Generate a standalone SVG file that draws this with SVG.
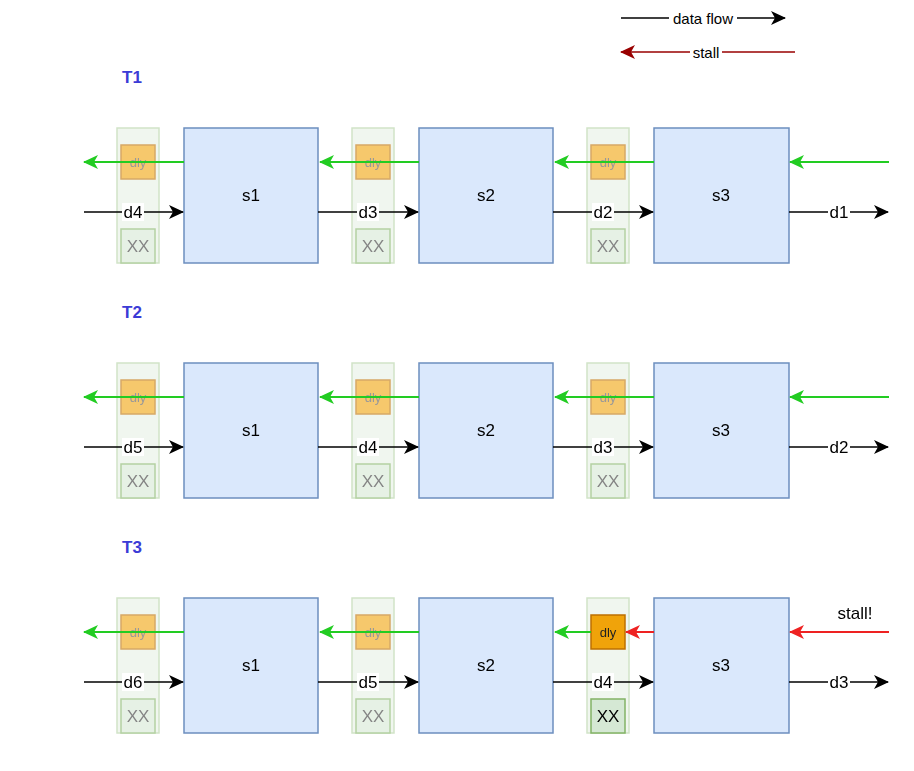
<svg xmlns="http://www.w3.org/2000/svg" width="914" height="771" viewBox="0 0 914 771">
<style>
text{font-family:"Liberation Sans",Arial,sans-serif;text-anchor:middle;dominant-baseline:central}
.stage{fill:#dae8fc;stroke:#6c8ebf;stroke-width:1.5}
.col{fill:#d5e8d4;stroke:#82b366;stroke-width:1.5}
.dly{fill:#f0a30a;stroke:#bd7000;stroke-width:1.5}
.xx{fill:#d5e8d4;stroke:#82b366;stroke-width:1.5}
.faded{opacity:0.6}
.lbl{font-size:17px;fill:#000}
.t{font-size:17px;font-weight:bold;fill:#3b3bd6;text-anchor:start}
.blk{stroke:#000;stroke-width:1.5;fill:none;marker-end:url(#ab)}
.grn{stroke:#22cc22;stroke-width:2;fill:none;marker-end:url(#ag)}
.red{stroke:#ee2222;stroke-width:2;fill:none;marker-end:url(#ar)}
.dred{stroke:#990000;stroke-width:1.5;fill:none;marker-end:url(#ad)}
</style>
<defs>
<marker id="ab" markerWidth="16" markerHeight="14" refX="14" refY="7" orient="auto" markerUnits="userSpaceOnUse"><path d="M0,0 L15,7 L0,14 L4,7 Z" fill="#000"/></marker>
<marker id="ag" markerWidth="16" markerHeight="14" refX="14" refY="7" orient="auto" markerUnits="userSpaceOnUse"><path d="M0,0 L15,7 L0,14 L4,7 Z" fill="#22cc22"/></marker>
<marker id="ar" markerWidth="16" markerHeight="14" refX="14" refY="7" orient="auto" markerUnits="userSpaceOnUse"><path d="M0,0 L15,7 L0,14 L4,7 Z" fill="#ee2222"/></marker>
<marker id="ad" markerWidth="16" markerHeight="14" refX="14" refY="7" orient="auto" markerUnits="userSpaceOnUse"><path d="M0,0 L15,7 L0,14 L4,7 Z" fill="#990000"/></marker>
</defs>
<g id="legend">
<path class="dred" d="M795,52 H621"/><rect x="690" y="43" width="32" height="18" fill="#fff"/><text x="706" y="52" font-size="15">stall</text>
<path class="blk" d="M621,18 H785"/><rect x="669" y="9" width="68" height="18" fill="#fff"/><text x="703" y="18" font-size="15">data flow</text>
</g>
<g id="titles">
<text class="t" x="122" y="77">T1</text><text class="t" x="122" y="312">T2</text><text class="t" x="122" y="547">T3</text>
</g>
<g id="registers">
<g id="r1" class="faded">
<rect class="col" x="117" y="128" width="42" height="135" opacity="0.6"/><rect class="dly" x="121" y="145" width="34" height="34"/><text x="138" y="162" font-size="13" fill="#555">dly</text><rect class="xx" x="121" y="229" width="34" height="34"/><text x="138" y="246" font-size="17" fill="#333">XX</text>
<rect class="col" x="352" y="128" width="42" height="135" opacity="0.6"/><rect class="dly" x="356" y="145" width="34" height="34"/><text x="373" y="162" font-size="13" fill="#555">dly</text><rect class="xx" x="356" y="229" width="34" height="34"/><text x="373" y="246" font-size="17" fill="#333">XX</text>
<rect class="col" x="587" y="128" width="42" height="135" opacity="0.6"/><rect class="dly" x="591" y="145" width="34" height="34"/><text x="608" y="162" font-size="13" fill="#555">dly</text><rect class="xx" x="591" y="229" width="34" height="34"/><text x="608" y="246" font-size="17" fill="#333">XX</text>
</g>
<g id="r2" class="faded">
<rect class="col" x="117" y="363" width="42" height="135" opacity="0.6"/><rect class="dly" x="121" y="380" width="34" height="34"/><text x="138" y="397" font-size="13" fill="#555">dly</text><rect class="xx" x="121" y="464" width="34" height="34"/><text x="138" y="481" font-size="17" fill="#333">XX</text>
<rect class="col" x="352" y="363" width="42" height="135" opacity="0.6"/><rect class="dly" x="356" y="380" width="34" height="34"/><text x="373" y="397" font-size="13" fill="#555">dly</text><rect class="xx" x="356" y="464" width="34" height="34"/><text x="373" y="481" font-size="17" fill="#333">XX</text>
<rect class="col" x="587" y="363" width="42" height="135" opacity="0.6"/><rect class="dly" x="591" y="380" width="34" height="34"/><text x="608" y="397" font-size="13" fill="#555">dly</text><rect class="xx" x="591" y="464" width="34" height="34"/><text x="608" y="481" font-size="17" fill="#333">XX</text>
</g>
<g id="r3" class="faded">
<rect class="col" x="117" y="598" width="42" height="135" opacity="0.6"/><rect class="dly" x="121" y="615" width="34" height="34"/><text x="138" y="632" font-size="13" fill="#555">dly</text><rect class="xx" x="121" y="699" width="34" height="34"/><text x="138" y="716" font-size="17" fill="#333">XX</text>
<rect class="col" x="352" y="598" width="42" height="135" opacity="0.6"/><rect class="dly" x="356" y="615" width="34" height="34"/><text x="373" y="632" font-size="13" fill="#555">dly</text><rect class="xx" x="356" y="699" width="34" height="34"/><text x="373" y="716" font-size="17" fill="#333">XX</text>
<rect class="col" x="587" y="598" width="42" height="135" opacity="0.6"/>
</g>
<g id="r3active">
<rect class="dly" x="591" y="615" width="34" height="34"/><text x="608" y="632" font-size="13" fill="#222">dly</text><rect class="xx" x="591" y="699" width="34" height="34"/><text x="608" y="716" font-size="17" fill="#000">XX</text>
</g>
</g>
<g id="stages">
<g id="s1a"><rect class="stage" x="184" y="128" width="134" height="135"/><text class="lbl" x="251" y="195" font-size="18">s1</text></g>
<g id="s2a"><rect class="stage" x="419" y="128" width="134" height="135"/><text class="lbl" x="486" y="195" font-size="18">s2</text></g>
<g id="s3a"><rect class="stage" x="654" y="128" width="135" height="135"/><text class="lbl" x="721" y="195" font-size="18">s3</text></g>
<g id="s1b"><rect class="stage" x="184" y="363" width="134" height="135"/><text class="lbl" x="251" y="430" font-size="18">s1</text></g>
<g id="s2b"><rect class="stage" x="419" y="363" width="134" height="135"/><text class="lbl" x="486" y="430" font-size="18">s2</text></g>
<g id="s3b"><rect class="stage" x="654" y="363" width="135" height="135"/><text class="lbl" x="721" y="430" font-size="18">s3</text></g>
<g id="s1c"><rect class="stage" x="184" y="598" width="134" height="135"/><text class="lbl" x="251" y="665" font-size="18">s1</text></g>
<g id="s2c"><rect class="stage" x="419" y="598" width="134" height="135"/><text class="lbl" x="486" y="665" font-size="18">s2</text></g>
<g id="s3c"><rect class="stage" x="654" y="598" width="135" height="135"/><text class="lbl" x="721" y="665" font-size="18">s3</text></g>
</g>
<g id="connectors">
<path class="grn" d="M889,162 H790"/><path class="grn" d="M654,162 H555"/><path class="grn" d="M419,162 H320"/><path class="grn" d="M184,162 H84"/>
<path class="grn" d="M889,397 H790"/><path class="grn" d="M654,397 H555"/><path class="grn" d="M419,397 H320"/><path class="grn" d="M184,397 H84"/>
<path class="red" d="M889,632 H790"/><path class="red" d="M654,632 H626"/><path class="grn" d="M591,632 H555"/><path class="grn" d="M419,632 H320"/><path class="grn" d="M184,632 H84"/>
<path class="blk" d="M84,212 H183"/><path class="blk" d="M318,212 H418"/><path class="blk" d="M553,212 H653"/><path class="blk" d="M789,212 H888"/>
<path class="blk" d="M84,447 H183"/><path class="blk" d="M318,447 H418"/><path class="blk" d="M553,447 H653"/><path class="blk" d="M789,447 H888"/>
<path class="blk" d="M84,682 H183"/><path class="blk" d="M318,682 H418"/><path class="blk" d="M553,682 H653"/><path class="blk" d="M789,682 H888"/>
<g fill="#fff">
<rect x="122" y="203" width="22" height="18"/><rect x="357" y="203" width="22" height="18"/><rect x="592" y="203" width="22" height="18"/><rect x="828" y="203" width="22" height="18"/>
<rect x="122" y="438" width="22" height="18"/><rect x="357" y="438" width="22" height="18"/><rect x="592" y="438" width="22" height="18"/><rect x="828" y="438" width="22" height="18"/>
<rect x="122" y="673" width="22" height="18"/><rect x="357" y="673" width="22" height="18"/><rect x="592" y="673" width="22" height="18"/><rect x="828" y="673" width="22" height="18"/>
</g>
<text class="lbl" x="133" y="212">d4</text><text class="lbl" x="368" y="212">d3</text><text class="lbl" x="603" y="212">d2</text><text class="lbl" x="839" y="212">d1</text>
<text class="lbl" x="133" y="447">d5</text><text class="lbl" x="368" y="447">d4</text><text class="lbl" x="603" y="447">d3</text><text class="lbl" x="839" y="447">d2</text>
<text class="lbl" x="133" y="682">d6</text><text class="lbl" x="368" y="682">d5</text><text class="lbl" x="603" y="682">d4</text><text class="lbl" x="839" y="682">d3</text>
<text class="lbl" x="855" y="613" font-size="18">stall!</text>
</g>
</svg>
